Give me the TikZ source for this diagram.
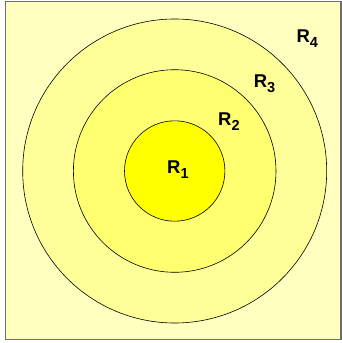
\documentclass[tikz,border=0pt]{standalone}
\usepackage{fontspec}
\setmainfont{Liberation Sans}
\definecolor{cfour}{HTML}{FFFFC0}
\definecolor{cthree}{HTML}{FFFF99}
\definecolor{ctwo}{HTML}{FFFF70}
\definecolor{cone}{HTML}{FFFF00}
\definecolor{frame}{HTML}{6E6E6E}
\tikzset{
  ring/.style={draw=black, line width=0.6pt},
  lbl/.style={font=\fontsize{18.5}{20}\selectfont\bfseries, inner sep=0pt, anchor=base west}
}
\newcommand{\rlab}[1]{R\raisebox{-5pt}{\fontsize{14.5}{16}\selectfont #1}}
\begin{document}
\begin{tikzpicture}[x=1pt,y=-1pt]
\useasboundingbox (0,0) rectangle (342,343);
\path[fill=cfour, draw=frame, line width=1.4pt] (5.5,1.5) rectangle (341,339.5);
\coordinate (c) at (174.7,171);
\path[ring, fill=cthree] (c) circle[radius=152];
\path[ring, fill=ctwo] (c) circle[radius=101.3];
\path[ring, fill=cone] (c) circle[radius=50.2];
\node[lbl] (r1) at (167,173.3) {\rlab{1}};
\node[lbl] (r2) at (218,125.7) {\rlab{2}};
\node[lbl] (r3) at (253.6,87) {\rlab{3}};
\node[lbl] (r4) at (296.3,42.3) {\rlab{4}};
\end{tikzpicture}
\end{document}
